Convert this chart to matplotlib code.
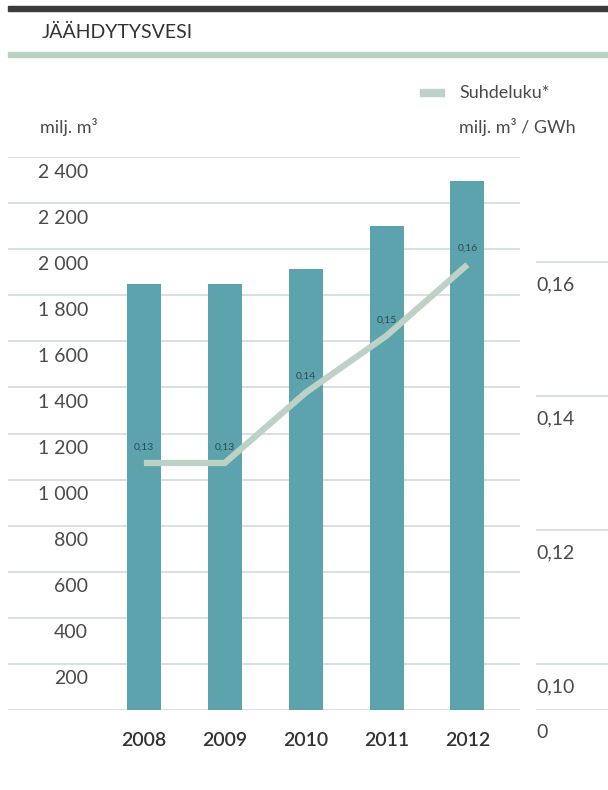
import numpy as np
import matplotlib.pyplot as plt
import matplotlib.transforms as mtransforms
from matplotlib.patches import Rectangle

plt.rcParams['font.family'] = ['Lato', 'DejaVu Sans']

years = ['2008', '2009', '2010', '2011', '2012']
water = [1847, 1850, 1915, 2101, 2295]          # milj. m3
ratio = [0.130, 0.130, 0.1405, 0.149, 0.1596]    # milj. m3 / GWh
ratio_labels = ['0,13', '0,13', '0,14', '0,15', '0,16']
left_ticks = [200, 400, 600, 800, 1000, 1200, 1400, 1600, 1800, 2000, 2200, 2400]
left_labels = ['200', '400', '600', '800', '1 000', '1 200', '1 400', '1 600',
               '1 800', '2 000', '2 200', '2 400']
right_ticks = [0.10, 0.12, 0.14, 0.16]
right_labels = ['0,10', '0,12', '0,14', '0,16']

W, H = 608, 790
fig = plt.figure(figsize=(W / 100, H / 100), dpi=100)

bar_col = '#5ca3ad'
line_col = '#bcd2c5'
grid_col = '#d6dde1'
txt_col = '#4a4a4a'


def fx(px):
    return px / W


def fy(py):
    return 1 - py / H


# header decorations
fig.patches.append(Rectangle((fx(8), fy(11)), fx(600), 5 / H, transform=fig.transFigure,
                             color='#3b3b3b', zorder=0))
fig.patches.append(Rectangle((fx(8), fy(57)), fx(600), 5 / H, transform=fig.transFigure,
                             color='#b9d1c3', zorder=0))
fig.text(fx(42), fy(32), 'JÄÄHDYTYSVESI', fontsize=14, color='#333333', va='center')

# main axes
top_px, bot_px = 157, 710
ax = fig.add_axes([fx(8), fy(bot_px), fx(520 - 8), (bot_px - top_px) / H])
x = np.arange(len(years))
ax.bar(x, water, width=0.42, color=bar_col, zorder=2)
ax.set_xlim(-1.68, 4.65)
ax.set_ylim(0, 2400)
for v in [0] + left_ticks:
    ax.axhline(v, color=grid_col, lw=1.3, zorder=1)
for s in ax.spines.values():
    s.set_visible(False)
ax.set_xticks(x)
ax.set_xticklabels(years, fontsize=14, color='#333333', fontweight='semibold')
ax.tick_params(axis='x', length=0, pad=16)
ax.set_yticks([])

off = mtransforms.ScaledTranslation(0, -15 / 100, fig.dpi_scale_trans)
trans = mtransforms.blended_transform_factory(ax.transAxes, ax.transData) + off
for v, lab in zip(left_ticks, left_labels):
    ax.text(80 / 512, v, lab, transform=trans, ha='right', va='center',
            fontsize=14, color=txt_col)

# ratio axis
rmin = 0.10 - (bot_px - 664) / 6700
rmax = 0.16 + (262 - top_px) / 6700
ax2 = ax.twinx()
ax2.set_ylim(rmin, rmax)
ax2.plot(x, ratio, color=line_col, lw=4.5, solid_capstyle='butt', zorder=3)
for xi, r, lab in zip(x, ratio, ratio_labels):
    ax2.annotate(lab, (xi, r), xytext=(0, 16), textcoords='offset pixels',
                 ha='center', va='center', fontsize=7.5, color='#2e4b52')
ax2.set_yticks([])
for s in ax2.spines.values():
    s.set_visible(False)

ax3 = fig.add_axes([fx(536), fy(bot_px), fx(608 - 536), (bot_px - top_px) / H], sharey=ax2)
ax3.set_xlim(0, 1)
for v in [rmin] + right_ticks:
    ax3.axhline(v, color=grid_col, lw=1.3)
ax3.axis('off')
off2 = mtransforms.ScaledTranslation(0, -23 / 100, fig.dpi_scale_trans)
trans2 = mtransforms.blended_transform_factory(ax3.transAxes, ax3.transData) + off2
for v, lab in zip([rmin] + right_ticks, ['0'] + right_labels):
    ax3.text(0, v, lab, transform=trans2, ha='left', va='center',
             fontsize=14, color=txt_col)

# legend and unit labels
fig.patches.append(Rectangle((fx(420), fy(96)), fx(24), 7 / H, transform=fig.transFigure,
                             color=line_col))
fig.text(fx(459), fy(93), 'Suhdeluku*', fontsize=13, color=txt_col, va='center')
fig.text(fx(459), fy(127), 'milj. m³ / GWh', fontsize=13, color=txt_col, va='center')
fig.text(fx(40), fy(127), 'milj. m³', fontsize=13, color=txt_col, va='center')

fig.savefig('out.png', dpi=100)
